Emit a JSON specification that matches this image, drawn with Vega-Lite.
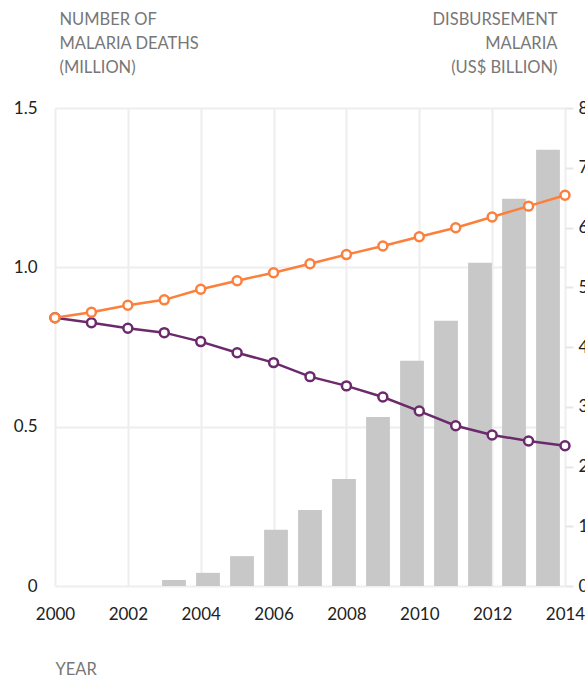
{
  "$schema": "https://vega.github.io/schema/vega-lite/v6.json",
  "width": 510,
  "height": 478,
  "autosize": {"type": "none"},
  "padding": {"left": 55, "top": 108, "right": 20, "bottom": 93},
  "config": {
    "view": {"stroke": null},
    "font": "Lato",
    "axis": {"labelFont": "Lato", "titleFont": "Lato"}
  },
  "data": {
    "values": [
      {"year": 2000, "deaths": 0.842, "trend": 0.842, "disbursement": 0.0},
      {"year": 2001, "deaths": 0.826, "trend": 0.859, "disbursement": 0.0},
      {"year": 2002, "deaths": 0.809, "trend": 0.881, "disbursement": 0.0},
      {"year": 2003, "deaths": 0.795, "trend": 0.898, "disbursement": 0.10},
      {"year": 2004, "deaths": 0.767, "trend": 0.931, "disbursement": 0.22},
      {"year": 2005, "deaths": 0.732, "trend": 0.958, "disbursement": 0.50},
      {"year": 2006, "deaths": 0.701, "trend": 0.983, "disbursement": 0.94},
      {"year": 2007, "deaths": 0.657, "trend": 1.011, "disbursement": 1.27},
      {"year": 2008, "deaths": 0.628, "trend": 1.040, "disbursement": 1.79},
      {"year": 2009, "deaths": 0.593, "trend": 1.067, "disbursement": 2.83},
      {"year": 2010, "deaths": 0.549, "trend": 1.096, "disbursement": 3.77},
      {"year": 2011, "deaths": 0.503, "trend": 1.124, "disbursement": 4.44},
      {"year": 2012, "deaths": 0.474, "trend": 1.158, "disbursement": 5.41},
      {"year": 2013, "deaths": 0.455, "trend": 1.192, "disbursement": 6.48},
      {"year": 2014, "deaths": 0.440, "trend": 1.226, "disbursement": 7.30}
    ]
  },
  "layer": [
    {
      "mark": {"type": "bar", "color": "#c8c8c8"},
      "encoding": {
        "x": {
          "field": "year",
          "type": "ordinal",
          "axis": null,
          "scale": {"paddingInner": 0.3, "paddingOuter": 0.15}
        },
        "y": {
          "field": "disbursement",
          "type": "quantitative",
          "scale": {"domain": [0, 8], "nice": false},
          "axis": {
            "orient": "right",
            "values": [0, 1, 2, 3, 4, 5, 6, 7, 8],
            "format": "d",
            "domain": false,
            "grid": false,
            "ticks": true,
            "tickSize": 8,
            "tickWidth": 2,
            "tickColor": "#e6e6e6",
            "labelPadding": 5,
            "labelFontSize": 17,
            "labelColor": "#222222",
            "title": ["DISBURSEMENT", "MALARIA", "(US$ BILLION)"],
            "titleAngle": 0,
            "titleAlign": "right",
            "titleBaseline": "alphabetic",
            "titleX": -8,
            "titleY": -84,
            "titleLineHeight": 24,
            "titleFontSize": 16.5,
            "titleFontWeight": "normal",
            "titleColor": "#777777"
          }
        }
      }
    },
    {
      "encoding": {
        "x": {
          "field": "year",
          "type": "quantitative",
          "scale": {"domain": [2000, 2014], "nice": false, "zero": false},
          "axis": {
            "values": [2000, 2002, 2004, 2006, 2008, 2010, 2012, 2014],
            "format": "d",
            "domain": false,
            "ticks": false,
            "grid": true,
            "gridColor": "#eeeeee",
            "gridWidth": 2,
            "labelFlush": false,
            "labelOverlap": false,
            "labelFontSize": 17,
            "labelColor": "#222222",
            "labelPadding": 20,
            "labelBaseline": "top",
            "title": "YEAR",
            "titleAngle": 0,
            "titleAlign": "left",
            "titleBaseline": "alphabetic",
            "titleX": 0,
            "titleY": 88,
            "titleFontSize": 16.5,
            "titleFontWeight": "normal",
            "titleColor": "#777777"
          }
        }
      },
      "layer": [
        {
          "mark": {
            "type": "line",
            "color": "#6b2a6b",
            "strokeWidth": 2.5,
            "point": {"filled": false, "fill": "white", "size": 80, "strokeWidth": 2.5, "color": "#6b2a6b"}
          },
          "encoding": {
            "y": {
              "field": "deaths",
              "type": "quantitative",
              "scale": {"domain": [0, 1.5], "nice": false},
              "axis": {
                "orient": "left",
                "values": [0, 0.5, 1, 1.5],
                "labelExpr": "datum.value == 0 ? '0' : format(datum.value, '.1f')",
                "domain": false,
                "ticks": false,
                "grid": true,
                "gridColor": "#eeeeee",
                "gridWidth": 2,
                "labelFontSize": 17,
                "labelColor": "#222222",
                "labelPadding": 18,
                "title": ["NUMBER OF", "MALARIA DEATHS", "(MILLION)"],
                "titleAngle": 0,
                "titleAlign": "left",
                "titleBaseline": "alphabetic",
                "titleX": 4,
                "titleY": -84,
                "titleLineHeight": 24,
                "titleFontSize": 16.5,
                "titleFontWeight": "normal",
                "titleColor": "#777777"
              }
            }
          }
        },
        {
          "mark": {
            "type": "line",
            "color": "#fc7f3c",
            "strokeWidth": 2.5,
            "point": {"filled": false, "fill": "white", "size": 80, "strokeWidth": 2.5, "color": "#fc7f3c"}
          },
          "encoding": {
            "y": {"field": "trend", "type": "quantitative"}
          }
        }
      ]
    }
  ],
  "resolve": {"scale": {"x": "independent", "y": "independent"}}
}
